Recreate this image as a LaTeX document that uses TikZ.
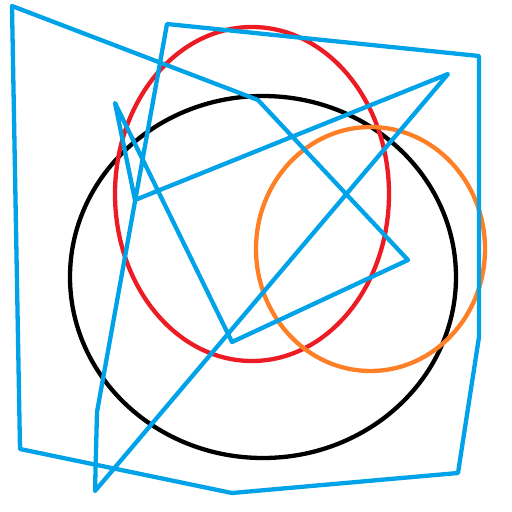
\documentclass[tikz,border=0pt]{standalone}
\usetikzlibrary{calc}
\definecolor{pblue}{RGB}{0,162,232}
\definecolor{pred}{RGB}{237,28,36}
\definecolor{porange}{RGB}{255,127,39}
\tikzset{stroke/.style={line width=4.3pt,line join=round,line cap=round}}
\begin{document}
\begin{tikzpicture}[x=1pt,y=-1pt]
\useasboundingbox (0,0) rectangle (512,512);
\fill[white] (0,0) rectangle (512,512);
\draw[stroke,black] (263,277) ellipse [x radius=193,y radius=181];
\draw[stroke,pred] (252,194) ellipse [x radius=137,y radius=167];
\draw[stroke,porange] (370.5,249) ellipse [x radius=114.5,y radius=122];
\coordinate (p1) at (12,6);
\coordinate (p2) at (258,100);
\coordinate (p3) at (408,260);
\coordinate (p4) at (232,342);
\coordinate (p5) at (115,103);
\coordinate (p6) at (135,200);
\coordinate (p7) at (448,74);
\coordinate (p8) at (95,491);
\coordinate (p9) at (97,412);
\coordinate (p10) at (167,24);
\coordinate (p11) at (479,56);
\coordinate (p12) at (479,337);
\coordinate (p13) at (458,473);
\coordinate (p14) at (232,493);
\coordinate (p15) at (20,449);
\draw[stroke,pblue] (p1) -- (p2) -- (p3) -- (p4) -- (p5) -- (p6) -- (p7) -- (p8) -- (p9) -- (p10) -- (p11) -- (p12) -- (p13) -- (p14) -- (p15) -- cycle;
\end{tikzpicture}
\end{document}
